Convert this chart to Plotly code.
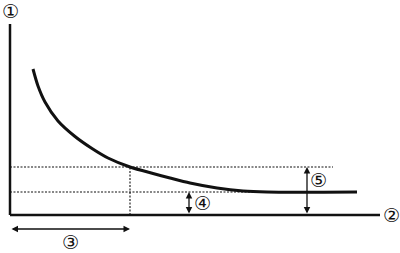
import plotly.graph_objects as go

# Curve data (x, y in chart units; origin at axes crossing)
curve_x = [23, 28, 35, 48, 65, 82, 98, 120, 143, 160, 180, 207, 233, 257, 347]
curve_y = [146, 129, 113, 94, 78.5, 66.5, 57, 48, 41.5, 37, 32, 27, 24, 23, 23]

# Reference levels
x_mark = 120        # ③ extent
y_high = 48         # upper dotted level
y_low = 23          # lower dotted level (asymptote)
x_arrow4 = 179
x_arrow5 = 297
x_upper_end = 323
x_lower_end = 250

# Axes extents
x_axis_end = 370
y_axis_end = 191

labels = ["①", "②", "③", "④", "⑤"]

FONT = "DejaVu Sans, Noto Sans CJK JP"
BLACK = "#111111"

fig = go.Figure()

# axes lines
fig.add_trace(go.Scatter(x=[0, 0], y=[y_axis_end, 0], mode="lines",
                         line=dict(color=BLACK, width=2.5), hoverinfo="skip"))
fig.add_trace(go.Scatter(x=[0, x_axis_end], y=[0, 0], mode="lines",
                         line=dict(color=BLACK, width=2.5), hoverinfo="skip"))

# dotted guide lines
DOT = "2px,1.5px"
fig.add_trace(go.Scatter(x=[0, x_upper_end], y=[y_high, y_high], mode="lines",
                         line=dict(color=BLACK, width=1.1, dash=DOT), hoverinfo="skip"))
fig.add_trace(go.Scatter(x=[0, x_lower_end], y=[y_low, y_low], mode="lines",
                         line=dict(color=BLACK, width=1.1, dash=DOT), hoverinfo="skip"))
fig.add_trace(go.Scatter(x=[x_mark, x_mark], y=[0, y_high], mode="lines",
                         line=dict(color=BLACK, width=1.1, dash=DOT), hoverinfo="skip"))

# curve
fig.add_trace(go.Scatter(x=curve_x, y=curve_y, mode="lines", line_shape="spline",
                         line=dict(color=BLACK, width=3, smoothing=0.8), hoverinfo="skip"))

def dbl_arrow(x0, y0, x1, y1):
    fig.add_annotation(x=x1, y=y1, ax=x0, ay=y0, xref="x", yref="y",
                       axref="x", ayref="y", showarrow=True, text="",
                       arrowhead=2, startarrowhead=2, arrowside="end+start",
                       arrowsize=1, startarrowsize=1, arrowwidth=1.3,
                       arrowcolor=BLACK, standoff=0, startstandoff=0)

dbl_arrow(x_arrow4, 0, x_arrow4, y_low)
dbl_arrow(x_arrow5, 0, x_arrow5, y_high)
dbl_arrow(0, -14, x_mark, -14)

label_pos = [(0, 204), (381, 0), (60, -27), (192, 12), (308, 35)]
for t, (lx, ly) in zip(labels, label_pos):
    fig.add_annotation(x=lx, y=ly, xref="x", yref="y", text=t, showarrow=False,
                       borderpad=0, font=dict(family=FONT, size=19, color=BLACK))

fig.update_layout(
    width=400, height=253, margin=dict(l=0, r=0, t=0, b=0),
    paper_bgcolor="white", plot_bgcolor="white", showlegend=False,
    xaxis=dict(range=[-10, 390], visible=False, fixedrange=True),
    yaxis=dict(range=[-38, 215], visible=False, fixedrange=True),
)

fig.write_html("out.html")
